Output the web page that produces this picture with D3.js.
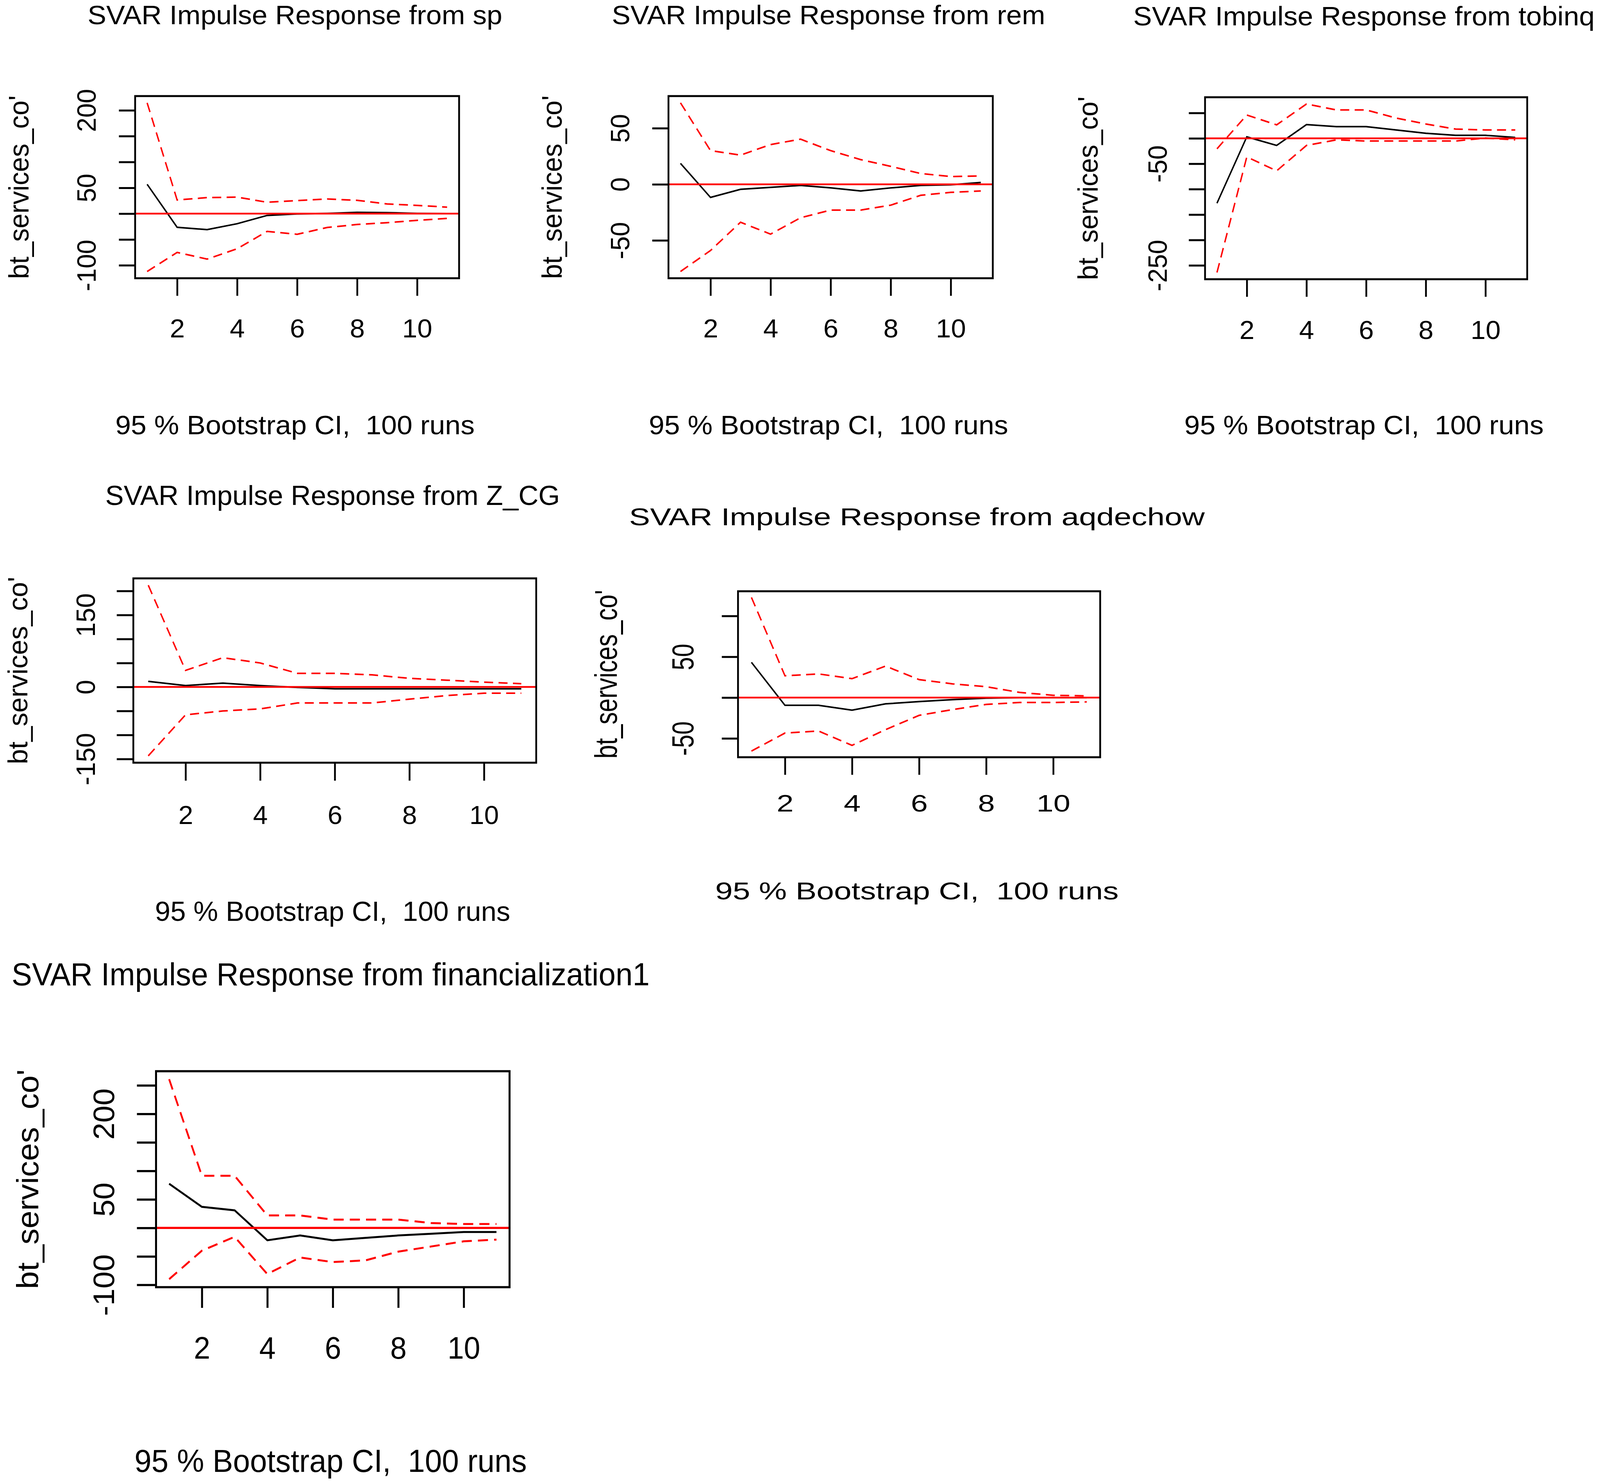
<!DOCTYPE html>
<html>
<head>
<meta charset="utf-8">
<script src="https://cdn.jsdelivr.net/npm/d3@7"></script>
<style>
  html, body { margin: 0; padding: 0; background: #fff; overflow: hidden; }
  #chart svg { display: block; width: 100vw; height: 100vh; }
  text { font-family: "Liberation Sans", Arial, sans-serif; fill: #000; white-space: pre; }
</style>
</head>
<body>
<div id="chart"></div>
<script>
// horizon of the impulse responses
const periods = [1, 2, 3, 4, 5, 6, 7, 8, 9, 10, 11];
const xTicks = [2, 4, 6, 8, 10];
const responseLabel = "bt_services_co'";
const ciLabel = "95 % Bootstrap CI,  100 runs";

const shocks = ["sp", "rem", "tobinq", "Z_CG", "aqdechow", "financialization1"];

// response of bt_services to each shock: point estimate, upper and lower band
const spIrf   = [56.8, -26.4, -31, -19.5, -3.5, -0.5, 0.5, 2.5, 2, 0.5, 0];
const spUpper = [214.5, 26.4, 31, 32, 22, 25.3, 28.3, 25.8, 18.8, 16, 12.6];
const spLower = [-112, -75, -88, -68, -34.3, -40, -26.8, -21, -17.5, -13, -9.2];

const remIrf   = [18.6, -11.7, -4.5, -2.7, -1, -3.2, -5.9, -3.2, -1, -0.5, 1.6];
const remUpper = [72.6, 30, 26, 35.4, 40.2, 30, 22, 16, 9.6, 6.9, 7.4];
const remLower = [-77.7, -59, -33.8, -44.4, -29.8, -23, -23, -18.6, -9.8, -7.2, -5.9];

const tobinqIrf   = [-127.6, 2.9, -14, 27, 23, 23, 16.5, 10, 5.9, 5.9, 1.8];
const tobinqUpper = [-20.6, 45.9, 26.5, 67.6, 55.9, 55.9, 40, 28.2, 18.2, 16.5, 16.5];
const tobinqLower = [-264, -36.5, -64, -14, -3, -5.3, -5.3, -5.3, -5.3, 0.6, -3];

const zcgIrf   = [11.7, 3, 8, 3, -1, -3.7, -3.7, -3.7, -3.7, -3.7, -3.7];
const zcgUpper = [212, 34.5, 61, 50, 28.4, 28.4, 25.3, 18, 14.2, 10, 6.8];
const zcgLower = [-143.5, -58, -50, -45.7, -33.3, -33.3, -33.3, -25.3, -17.9, -13, -13];

const aqdIrf   = [43.2, -9.5, -9.5, -15.4, -7.7, -4.9, -2.5, -0.7, 0, 0, 0];
const aqdUpper = [122.8, 26.7, 29, 23.2, 38.6, 22, 16.8, 13.3, 6.3, 2.8, 2.1];
const aqdLower = [-65.6, -43.5, -41, -58.6, -39.3, -21.8, -14.7, -8.4, -6, -6, -5.3];

const finIrf   = [77.4, 36.9, 30.8, -21.8, -13.3, -21.8, -17.5, -13.3, -10.3, -7.3, -7.3];
const finUpper = [260.8, 91.4, 91.4, 21.8, 21.8, 14.5, 14.5, 14.5, 8.5, 6.7, 6.7];
const finLower = [-90, -40, -15.7, -81, -52, -60, -57, -41.7, -32.7, -23.6, -20.6];

// y ticks and which of them R managed to label
const spTicks = [-100, -50, 0, 50, 100, 150, 200],        spLabels = [200, 50, -100];
const remTicks = [-50, 0, 50],                            remLabels = [50, 0, -50];
const tobinqTicks = [-250, -200, -150, -100, -50, 0, 50], tobinqLabels = [-50, -250];
const zcgTicks = [-150, -100, -50, 0, 50, 100, 150, 200], zcgLabels = [150, 0, -150];
const aqdTicks = [-50, 0, 50, 100],                       aqdLabels = [50, -50];
const finTicks = [-100, -50, 0, 50, 100, 150, 200, 250],  finLabels = [200, 50, -100];

// panel geometry in page pixels (k = horizontal stretch of the text)
const boxes = [
  {left: 375,  right: 1274, top: 246,  bottom: 712.5, k: 1.134, fs: 68.5, tfs: 66, titleY: 62,   tickY: 864,  xlabY: 1112, tickX: -109, ylabX: -296, tl: 45, lw: 4, bw: 5, dash: "25,15"},
  {left: 1855, right: 2755, top: 246,  bottom: 712.5, k: 1.134, fs: 68.5, tfs: 66, titleY: 62,   tickY: 864,  xlabY: 1112, tickX: -109, ylabX: -296, tl: 45, lw: 4, bw: 5, dash: "25,15"},
  {left: 3344, right: 4238, top: 249,  bottom: 715,   k: 1.134, fs: 68.5, tfs: 66, titleY: 65,   tickY: 868,  xlabY: 1112, tickX: -106, ylabX: -298, tl: 45, lw: 4, bw: 5, dash: "25,15"},
  {left: 370,  right: 1488, top: 1481, bottom: 1953,  k: 1.097, fs: 70,   tfs: 67, titleY: 1293, tickY: 2110, xlabY: 2358, tickX: -107, ylabX: -294, tl: 46, lw: 4, bw: 5, dash: "25,15"},
  {left: 2048, right: 3053, top: 1514, bottom: 1939,  k: 1.384, fs: 63,   tfs: 61, titleY: 1345, tickY: 2078, xlabY: 2303, tickX: -124, ylabX: -336, tl: 45, lw: 4, bw: 5, dash: "25,15"},
  {left: 433,  right: 1414, top: 2743, bottom: 3296,  k: 1.034, fs: 82,   tfs: 79, titleY: 2523, tickY: 3479, xlabY: 3769, tickX: -116, ylabX: -327, tl: 53, lw: 5, bw: 5.5, dash: "28,17"}
];

const panels = [
  {irf: spIrf, upper: spUpper, lower: spLower, ticks: spTicks, labels: spLabels},
  {irf: remIrf, upper: remUpper, lower: remLower, ticks: remTicks, labels: remLabels},
  {irf: tobinqIrf, upper: tobinqUpper, lower: tobinqLower, ticks: tobinqTicks, labels: tobinqLabels},
  {irf: zcgIrf, upper: zcgUpper, lower: zcgLower, ticks: zcgTicks, labels: zcgLabels},
  {irf: aqdIrf, upper: aqdUpper, lower: aqdLower, ticks: aqdTicks, labels: aqdLabels},
  {irf: finIrf, upper: finUpper, lower: finLower, ticks: finTicks, labels: finLabels}
];

const width = 4440, height = 3800;

const svg = d3.select("#chart").append("svg")
  .attr("viewBox", "0 0 " + width + " " + height)
  .attr("preserveAspectRatio", "none");

svg.append("rect").attr("width", width).attr("height", height).attr("fill", "#fff");

// R pads the data range by 4% on each side
function padded(lo, hi) {
  var d = (hi - lo) * 0.04;
  return [lo - d, hi + d];
}

panels.forEach(function(p, i) {
  var b = boxes[i];
  var cx = (b.left + b.right) / 2 - 6;
  var cy = (b.top + b.bottom) / 2;

  var x = d3.scaleLinear()
    .domain(padded(d3.min(periods), d3.max(periods)))
    .range([b.left, b.right]);

  var allVals = p.irf.concat(p.upper, p.lower);
  var y = d3.scaleLinear()
    .domain(padded(d3.min(allVals), d3.max(allVals)))
    .range([b.bottom, b.top]);

  var g = svg.append("g").attr("class", "panel");

  var line = d3.line()
    .x(function(d) { return x(d[0]); })
    .y(function(d) { return y(d[1]); });

  var pairs = function(vals) { return periods.map(function(t, j) { return [t, vals[j]]; }); };

  g.append("path")
    .datum(pairs(p.irf))
    .attr("d", line)
    .attr("fill", "none")
    .attr("stroke", "#000")
    .attr("stroke-width", b.lw);

  [p.upper, p.lower].forEach(function(band) {
    g.append("path")
      .datum(pairs(band))
      .attr("d", line)
      .attr("fill", "none")
      .attr("stroke", "#ff0000")
      .attr("stroke-width", b.lw)
      .attr("stroke-dasharray", b.dash);
  });

  // zero line
  g.append("line")
    .attr("x1", b.left).attr("x2", b.right)
    .attr("y1", y(0)).attr("y2", y(0))
    .attr("stroke", "#ff0000")
    .attr("stroke-width", b.lw + 0.5);

  g.append("rect")
    .attr("x", b.left).attr("y", b.top)
    .attr("width", b.right - b.left).attr("height", b.bottom - b.top)
    .attr("fill", "none")
    .attr("stroke", "#000")
    .attr("stroke-width", b.bw);

  // x axis
  var xAxis = g.append("g")
    .attr("transform", "translate(0," + b.bottom + ")")
    .call(d3.axisBottom(x).tickValues(xTicks).tickSize(b.tl).tickSizeOuter(0)
      .tickFormat(function(d) { return String(d); }));
  xAxis.select(".domain").remove();
  xAxis.selectAll(".tick line").attr("stroke", "#000").attr("stroke-width", b.bw);
  xAxis.selectAll(".tick text")
    .attr("y", null).attr("dy", null)
    .attr("transform", "translate(0," + (b.tickY - b.bottom) + ") scale(" + b.k + ",1)")
    .attr("fill", "#000")
    .style("font-size", b.tfs + "px");
  xAxis.attr("font-family", null).attr("font-size", null);

  // y axis
  var yAxis = g.append("g")
    .attr("transform", "translate(" + b.left + ",0)")
    .call(d3.axisLeft(y).tickValues(p.ticks).tickSize(b.tl).tickSizeOuter(0)
      .tickFormat(function(d) { return p.labels.indexOf(d) >= 0 ? String(d) : ""; }));
  yAxis.select(".domain").remove();
  yAxis.selectAll(".tick line").attr("stroke", "#000").attr("stroke-width", b.bw);
  yAxis.selectAll(".tick text")
    .attr("x", null).attr("dy", null)
    .attr("text-anchor", "middle")
    .attr("transform", "translate(" + b.tickX + ",0) scale(" + b.k + ",1) rotate(-90)")
    .attr("fill", "#000")
    .style("font-size", b.tfs + "px");
  yAxis.attr("font-family", null).attr("font-size", null);

  // titles and labels
  g.append("text")
    .attr("transform", "translate(" + cx + "," + b.titleY + ") scale(" + b.k + ",1)")
    .attr("text-anchor", "middle")
    .style("font-size", b.fs + "px")
    .text("SVAR Impulse Response from " + shocks[i]);

  g.append("text")
    .attr("transform", "translate(" + cx + "," + b.xlabY + ") scale(" + b.k + ",1)")
    .attr("text-anchor", "middle")
    .style("font-size", b.fs + "px")
    .text(ciLabel);

  g.append("text")
    .attr("transform", "translate(" + (b.left + b.ylabX) + "," + cy + ") scale(" + b.k + ",1) rotate(-90)")
    .attr("text-anchor", "middle")
    .style("font-size", b.fs + "px")
    .text(responseLabel);
});
</script>
</body>
</html>
